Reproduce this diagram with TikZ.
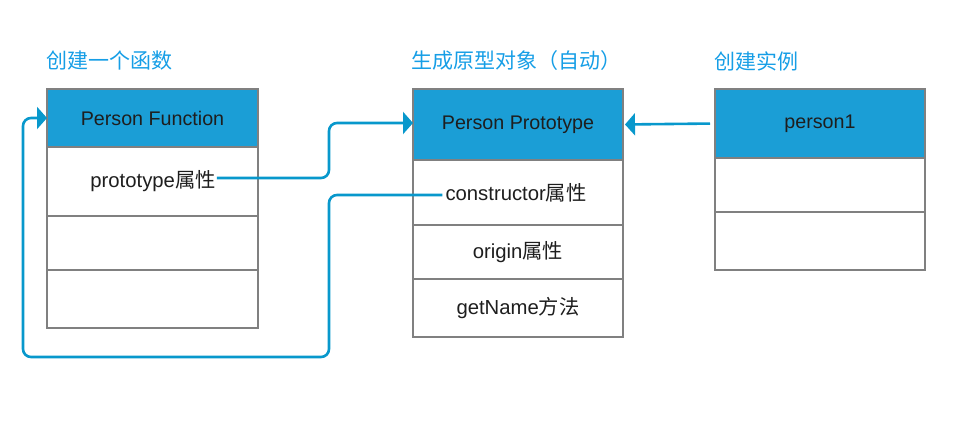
\documentclass[tikz,border=0pt]{standalone}
\usepackage{fontspec}
\setmainfont{Liberation Sans}
\newfontfamily\cjkfont{Noto Sans CJK SC}
\newcommand\zh[1]{{\cjkfont #1}}
\usetikzlibrary{arrows.meta,calc}
\definecolor{hdrblue}{RGB}{27,158,214}
\definecolor{lineblue}{RGB}{8,152,204}
\definecolor{titleblue}{RGB}{22,158,230}
\definecolor{bordergray}{RGB}{128,128,128}
\definecolor{txtdark}{RGB}{30,30,30}
\tikzset{
  cell/.style={draw=bordergray, line width=1.6pt, fill=white, anchor=north west,
    inner sep=0pt, outer sep=0pt, minimum width=#1, text=txtdark,
    font=\fontsize{19.7}{23}\selectfont},
  hdr/.style={cell=#1, fill=hdrblue},
  ttl/.style={anchor=west, inner sep=0pt, text=titleblue,
    font=\cjkfont\fontsize{21}{25}\selectfont},
  lbl/.style={inner sep=0pt, text=txtdark, font=\fontsize{20.3}{24}\selectfont},
  conn/.style={draw=lineblue, line width=2.6pt, rounded corners=8pt,
    -{Triangle[length=10pt,width=22pt]}}
}
\begin{document}
\begin{tikzpicture}[x=1pt,y=-1pt]
\useasboundingbox (0,0) rectangle (967,426);
% titles
\node[ttl] (t1) at (46,61) {创建一个函数};
\node[ttl] (t2) at (411,61) {生成原型对象（自动）};
\node[ttl] (t3) at (714,61) {创建实例};
% box 1
\node[hdr=211pt, minimum height=58pt] (f0) at (47,89) {Person Function};
\node[cell=211pt, minimum height=69pt] (f1) at (47,147) {};
\node[cell=211pt, minimum height=54pt] (f2) at (47,216) {};
\node[cell=211pt, minimum height=58pt] (f3) at (47,270) {};
\node[lbl] (ptxt) at (153,181) {prototype\zh{属性}};
% box 2
\node[hdr=210pt, minimum height=71pt] (p0) at (413,89) {Person Prototype};
\node[cell=210pt, minimum height=65pt] (p1) at (413,160) {};
\node[cell=210pt, minimum height=54pt, font=\fontsize{20.3}{24}\selectfont] (p2) at (413,225) {origin\zh{属性}};
\node[cell=210pt, minimum height=58pt, font=\fontsize{20.3}{24}\selectfont] (p3) at (413,279) {getName\zh{方法}};
\node[lbl] (ctxt) at (516,193) {constructor\zh{属性}};
% box 3
\node[hdr=210pt, minimum height=69pt] (i0) at (715,89) {person1};
\node[cell=210pt, minimum height=54pt] (i1) at (715,158) {};
\node[cell=210pt, minimum height=58pt] (i2) at (715,212) {};
% waypoints
\coordinate (w1) at (329,123);
\coordinate (w2) at (329,357);
\coordinate (w3) at (23,118);
% connectors
\draw[conn, shorten <=1pt] ([yshift=3pt]ptxt.east) -| (w1) -- (w1 -| p0.west);
\draw[conn, shorten <=3pt] ([yshift=-2pt]ctxt.west) -| (w2) -| (w3) -- (f0.west);
\draw[conn, shorten <=5pt, shorten >=2pt] (i0.west) -- (p0.east);
\end{tikzpicture}
\end{document}
